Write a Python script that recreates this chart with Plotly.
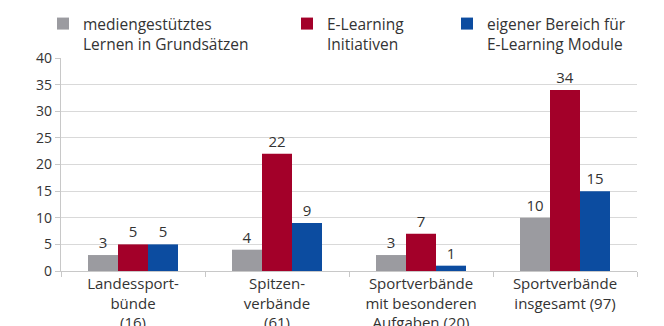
import plotly.graph_objects as go

categories = [
    "Landessport-<br>bünde<br>(16)",
    "Spitzen-<br>verbände<br>(61)",
    "Sportverbände<br>mit besonderen<br>Aufgaben (20)",
    "Sportverbände<br>insgesamt (97)",
]
series_names = [
    "mediengestütztes<br>Lernen in Grundsätzen",
    "E-Learning<br>Initiativen",
    "eigener Bereich für<br>E-Learning Module",
]
medien = [3, 4, 3, 10]
initiativen = [5, 22, 7, 34]
module = [5, 9, 1, 15]
y_ticks = [0, 5, 10, 15, 20, 25, 30, 35, 40]

colors = ["#9b9ba0", "#a30029", "#0c4ca0"]
font_family = "Open Sans, sans-serif"
text_color = "#333333"

fig = go.Figure()
legend_ids = ["legend", "legend2", "legend3"]
for name, vals, col, lg in zip(series_names, [medien, initiativen, module], colors, legend_ids):
    fig.add_trace(go.Bar(
        x=categories, y=vals, name=name, marker_color=col, marker_line_width=0,
        text=[str(v) for v in vals], textposition="outside", cliponaxis=False,
        textfont=dict(size=15, color=text_color, family=font_family),
        legend=lg,
    ))

# three separate legends so each entry sits at its own horizontal spot
legend_common = dict(
    xref="container", yref="container", yanchor="top", xanchor="left",
    valign="top", font=dict(size=15.5, color=text_color, family=font_family),
    bgcolor="rgba(0,0,0,0)", borderwidth=0, itemwidth=30,
)
fig.update_layout(
    width=664, height=326,
    margin=dict(l=61, r=27, t=58, b=54.5, pad=0, autoexpand=False),
    paper_bgcolor="white", plot_bgcolor="white",
    barmode="group", bargap=0.375, bargroupgap=0,
    font=dict(family=font_family, size=15, color=text_color),
    legend=dict(x=43 / 664, y=1 - 7 / 326, **legend_common),
    legend2=dict(x=287 / 664, y=1 - 7 / 326, **legend_common),
    legend3=dict(x=447 / 664, y=1 - 7 / 326, **legend_common),
    showlegend=True,
)
fig.update_yaxes(
    range=[0, 40], tickvals=y_ticks, ticks="outside", ticklen=5, tickcolor="#c8c8c8",
    showgrid=True, gridcolor="#d9d9d9", gridwidth=1.2, zeroline=False,
    showline=True, linecolor="#c8c8c8", linewidth=1.2,
    tickfont=dict(size=14, color=text_color, family=font_family), automargin=False,
)
fig.update_xaxes(
    ticks="outside", tickson="boundaries", ticklen=5, tickcolor="#c8c8c8",
    showline=True, linecolor="#c8c8c8", linewidth=1.2,
    tickfont=dict(size=15, color=text_color, family=font_family), automargin=False,
    tickangle=0, ticklabelstandoff=-1,
)

fig.write_html("out.html")
